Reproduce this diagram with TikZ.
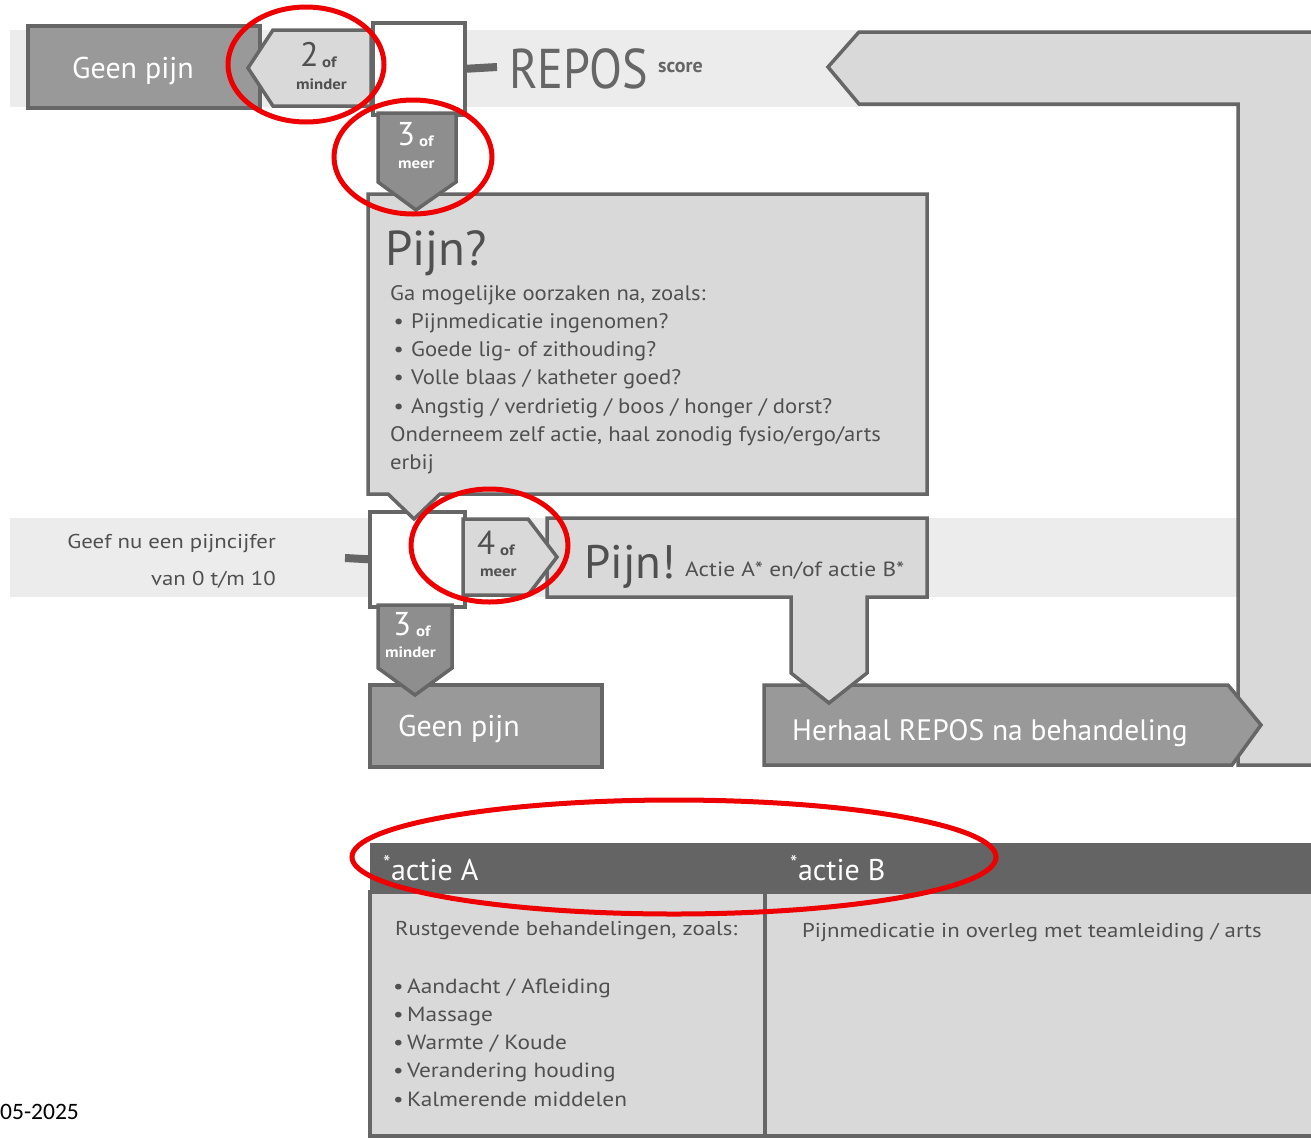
\documentclass[tikz,border=0pt]{standalone}
\usepackage{fontspec}
\setmainfont{PT Sans}
\newfontfamily\narf[FakeStretch=0.86]{PT Sans}
\newfontfamily\widef[FakeStretch=1.08]{PT Sans}
\newfontfamily\tblf[FakeStretch=1.14]{PT Sans}
\newfontfamily\smallf[FakeStretch=1.12]{PT Sans}
\newfontfamily\datefont{Carlito}
\definecolor{bord}{HTML}{666666}
\definecolor{darkfill}{HTML}{999999}
\definecolor{arrowfill}{HTML}{8E8E8E}
\definecolor{lightfill}{HTML}{D9D9D9}
\definecolor{bandfill}{HTML}{ECECEC}
\definecolor{txtgray}{HTML}{505050}
\definecolor{hdrfill}{HTML}{646464}
\definecolor{redmark}{HTML}{EE0000}
\newcommand{\fsz}[1]{\fontsize{#1}{#1}\selectfont}
\tikzset{
  shp/.style={draw=bord, line width=3.5pt, line join=miter},
  darkshp/.style={shp, fill=darkfill},
  arrshp/.style={shp, fill=arrowfill},
  lightshp/.style={shp, fill=lightfill},
  whiteshp/.style={shp, fill=white},
  bar/.style={draw=bord, line width=8pt},
  lbl/.style={inner sep=0pt, anchor=base west},
  lblr/.style={inner sep=0pt, anchor=base east},
  wtxt/.style={lbl, text=white},
  gtxt/.style={lbl, text=txtgray},
  smalltxt/.style={font=\bfseries\smallf\fsz{15}},
  redring/.style={draw=redmark, line width=5pt},
}
\begin{document}
\begin{tikzpicture}[x=1pt,y=-1pt]
\useasboundingbox (0,0) rectangle (1311,1138);
% bands
\fill[bandfill] (10,30) rectangle (1311,107);
\fill[bandfill] (10,518) rectangle (1238,597);
% big return shape
\draw[lightshp] (828,67) -- (859,32) -- (1330,32) -- (1330,765) -- (1238,765) -- (1238,104) -- (859,104) -- cycle;
% top row
\draw[darkshp] (28,26) rectangle (260,108);
\draw[lightshp] (371,30) -- (273,30) -- (248,68) -- (273,106) -- (371,106) -- cycle;
\node[whiteshp, minimum width=92pt, minimum height=92pt, inner sep=0pt, anchor=north west] (wb1) at (371,21) {};
\coordinate (bar1end) at (497,67);
\draw[bar] (wb1.east) -- (bar1end);
% middle white box
\node[whiteshp, minimum width=95pt, minimum height=95pt, inner sep=0pt, anchor=north west] (wb2) at (368,510) {};
\coordinate (bar2start) at (345,558);
\draw[bar] (bar2start) -- (wb2.west);
% Pijn? box
\draw[lightshp] (368,194) -- (927,194) -- (927,494) -- (440,494) -- (414,519) -- (388,494) -- (368,494) -- cycle;
% 3 of meer arrow
\draw[arrshp] (378,113) -- (456,113) -- (456,182) -- (416,210) -- (378,182) -- cycle;
% Herhaal arrow
\draw[darkshp] (764,685) -- (1228,685) -- (1261,725) -- (1232,765) -- (764,765) -- cycle;
% Pijn! box with stem
\draw[lightshp] (547,518) -- (927,518) -- (927,597) -- (867,597) -- (867,673) -- (829,703) -- (791,673) -- (791,597) -- (547,597) -- cycle;
% 4 of meer arrow
\draw[lightshp] (463,519) -- (528,519) -- (557,557) -- (528,595) -- (463,595) -- cycle;
% bottom Geen pijn
\draw[darkshp] (370,685) rectangle (602,767);
% 3 of minder arrow
\draw[arrshp] (378,605) -- (452,605) -- (452,668) -- (415,695) -- (378,668) -- cycle;
% table
\fill[hdrfill] (370,843) rectangle (1330,892);
\draw[lightshp] (370,892) rectangle (1330,1136);
\draw[shp] (765,892) -- (765,1136);

% texts
\node[wtxt, font=\fsz{30}] (gp1) at (72,78) {Geen pijn};
\node[gtxt, font=\fsz{34}] (two) at (300,66) {2};
\node[gtxt, smalltxt] (twoof) at (322,67) {of};
\node[gtxt, smalltxt] (twomin) at (296,89) {minder};
\node[wtxt, font=\fsz{33}] (three) at (397,145) {3};
\node[wtxt, smalltxt] (threeof) at (419,146) {of};
\node[wtxt, smalltxt] (threemeer) at (398,168) {meer};
\node[lbl, text=bord, font=\narf\fsz{56}] (repos) at (509,88) {REPOS};
\node[lbl, text=bord, font=\bfseries\fsz{20}] (score) at (658,72) {score};
\node[gtxt, font=\fsz{49}] (pq) at (385,265) {Pijn?};
\node[gtxt, font=\widef\fsz{21}] (b1) at (390,300) {Ga mogelijke oorzaken na, zoals:};
\node[gtxt, font=\widef\fsz{21}] (b2) at (390,328) {\makebox[21pt][l]{\,•}Pijnmedicatie ingenomen?};
\node[gtxt, font=\widef\fsz{21}] (b3) at (390,356) {\makebox[21pt][l]{\,•}Goede lig- of zithouding?};
\node[gtxt, font=\widef\fsz{21}] (b4) at (390,384) {\makebox[21pt][l]{\,•}Volle blaas / katheter goed?};
\node[gtxt, font=\widef\fsz{21}] (b5) at (390,413) {\makebox[21pt][l]{\,•}Angstig / verdrietig / boos / honger / dorst?};
\node[gtxt, font=\widef\fsz{21}] (b6) at (390,441) {Onderneem zelf actie, haal zonodig fysio/ergo/arts};
\node[gtxt, font=\widef\fsz{21}] (b7) at (390,469) {erbij};
\node[lblr, text=txtgray, font=\tblf\fsz{20}] (geef1) at (276,548) {Geef nu een pijncijfer};
\node[lblr, text=txtgray, font=\tblf\fsz{20}] (geef2) at (276,585) {van 0 t/m 10};
\node[gtxt, font=\fsz{33}] (four) at (477,554) {4};
\node[gtxt, smalltxt] (fourof) at (500,555) {of};
\node[gtxt, smalltxt] (fourmeer) at (480,576) {meer};
\node[gtxt, font=\fsz{47}] (pe) at (584,578) {Pijn!};
\node[gtxt, font=\tblf\fsz{20.5}] (actie) at (685,576) {Actie A* en/of actie B*};
\node[wtxt, font=\fsz{33}] (threeb) at (393,635) {3};
\node[wtxt, smalltxt] (threebof) at (416,636) {of};
\node[wtxt, smalltxt] (threebmin) at (385,657) {minder};
\node[wtxt, font=\fsz{30}] (gp2) at (398,736) {Geen pijn};
\node[wtxt, font=\fsz{29.5}] (herh) at (792,740) {Herhaal REPOS na behandeling};
\node[wtxt, font=\fsz{30}] (hA) at (383,880) {\textsuperscript{*}actie A};
\node[wtxt, font=\fsz{30}] (hB) at (790,880) {\textsuperscript{*}actie B};
\node[gtxt, font=\tblf\fsz{20}] (ta0) at (395,935) {Rustgevende behandelingen, zoals:};
\node[gtxt, font=\tblf\fsz{20.5}] (ta1) at (393,993) {•\,Aandacht / Afleiding};
\node[gtxt, font=\tblf\fsz{20.5}] (ta2) at (393,1021) {•\,Massage};
\node[gtxt, font=\tblf\fsz{20.5}] (ta3) at (393,1049) {•\,Warmte / Koude};
\node[gtxt, font=\tblf\fsz{20.5}] (ta4) at (393,1077) {•\,Verandering houding};
\node[gtxt, font=\tblf\fsz{20.5}] (ta5) at (393,1106) {•\,Kalmerende middelen};
\node[gtxt, font=\tblf\fsz{20}] (tb0) at (802,937) {Pijnmedicatie in overleg met teamleiding / arts};
\node[lbl, text=black, font=\datefont\fsz{23.5}] (date) at (0,1119) {05-2025};

% red annotation rings
\draw[redring] (306,64.5) ellipse [x radius=78pt, y radius=57.5pt];
\draw[redring] (413,157) ellipse [x radius=79pt, y radius=57pt];
\draw[redring] (489.5,545.5) ellipse [x radius=78.5pt, y radius=56.5pt];
\draw[redring] (674,857) ellipse [x radius=322pt, y radius=57pt];
\end{tikzpicture}
\end{document}
